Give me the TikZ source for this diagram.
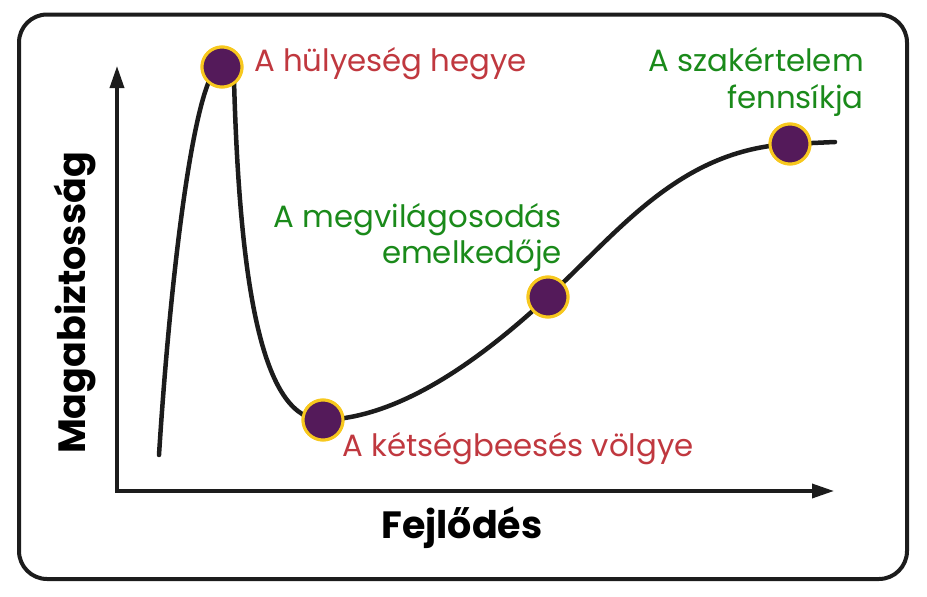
\documentclass[tikz,border=0pt]{standalone}
\usepackage{fontspec}
\setmainfont{Poppins}
\usetikzlibrary{arrows.meta}
\definecolor{ink}{HTML}{1C1C1C}
\definecolor{lred}{HTML}{C0383F}
\definecolor{lgreen}{HTML}{1A8A1A}
\definecolor{dotpurple}{HTML}{541A5A}
\definecolor{dotyellow}{HTML}{F7C81E}
\tikzset{
  frame/.style={draw=ink, line width=4pt, rounded corners=28pt},
  axis/.style={draw=ink, line width=3.5pt, -{Stealth[length=22pt,width=14pt,inset=0pt]}},
  curve/.style={draw=ink, line width=4.5pt, line cap=round, line join=round},
  dot/.style={circle, fill=dotpurple, draw=dotyellow, line width=3pt, minimum size=40pt, inner sep=0pt},
  redlab/.style={text=lred, font=\fontsize{30.8}{36}\selectfont, inner sep=0pt},
  greenlab/.style={text=lgreen, font=\fontsize{30.8}{36}\selectfont, inner sep=0pt, align=right},
  axlab/.style={text=black, font=\bfseries\fontsize{38}{44}\selectfont, inner sep=0pt}
}
\begin{document}
\begin{tikzpicture}[x=1pt, y=-1pt]
\useasboundingbox (0,0) rectangle (927,597);
\draw[frame] (19,14.5) rectangle (907,579);
% axes
\coordinate (O) at (117,492);
\coordinate (Ytip) at (117,66);
\coordinate (Xtip) at (834,491);
\draw[axis] (O) -- (Ytip);
\draw[axis] (115.25,491) -- (Xtip);
% curve
\coordinate (c0) at (159,455);
\coordinate (c5) at (835,142);
\node[dot] (peak) at (222,67) {};
\node[dot] (valley) at (323,420) {};
\node[dot] (rise) at (548,297) {};
\node[dot] (plateau) at (790,144) {};
\path[curve] (c0) .. controls (172,250) and (198,60) .. (peak.center)
  -- (234,80) .. controls (240,300) and (265,420) .. (valley.center)
  .. controls (400,418) and (480,360) .. (rise.center)
  .. controls (620,230) and (680,150) .. (plateau.center) -- (c5);
\node[dot] at (peak.center) {};
\node[dot] at (valley.center) {};
\node[dot] at (rise.center) {};
\node[dot] at (plateau.center) {};
% labels
\node[redlab, anchor=base west] (l1) at (254,71) {A hülyeség hegye};
\node[redlab, anchor=base west] (l2) at (342,456) {A kétségbeesés völgye};
\node[greenlab, anchor=base east] (l3a) at (562,227) {A megvilágosodás};
\node[greenlab, anchor=base east] (l3b) at (562,263) {emelkedője};
\node[greenlab, anchor=base east] (l4a) at (864,71) {A szakértelem};
\node[greenlab, anchor=base east] (l4b) at (864,108) {fennsíkja};
\node[axlab, anchor=base] (xl) at (462,538) {Fejlődés};
\node[axlab, anchor=base, rotate=90] (yl) at (85,303) {Magabiztosság};
\end{tikzpicture}
\end{document}
